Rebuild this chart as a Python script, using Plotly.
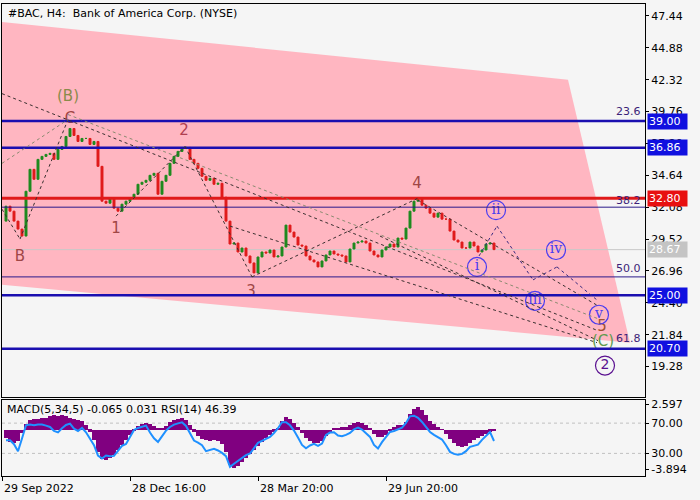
import plotly.graph_objects as go

# ---------------- data ----------------
close = [32.16, 31.76, 30.96, 30.32, 29.76, 33.36, 35.12, 34.32, 35.92, 36.16,
         36.32, 36.40, 35.92, 36.72, 36.96, 37.76, 38.40, 37.84, 37.36, 37.60,
         37.60, 37.12, 37.36, 35.36, 32.56, 32.40, 32.80, 32.00, 31.76, 32.32,
         32.56, 32.80, 33.12, 33.92, 34.08, 34.24, 34.64, 34.80, 33.12, 34.16,
         34.64, 35.60, 36.16, 36.56, 36.80, 36.88, 35.92, 35.60, 35.20, 34.56,
         34.24, 34.40, 33.92, 34.00, 32.88, 30.96, 29.12, 29.20, 28.48, 28.80,
         28.16, 27.60, 26.80, 28.08, 28.48, 28.40, 28.64, 28.08, 28.16, 28.88,
         30.64, 30.08, 29.68, 29.04, 28.96, 28.16, 27.84, 27.68, 27.28, 27.76,
         28.24, 28.56, 28.32, 28.24, 28.16, 27.68, 28.72, 29.20, 29.28, 29.36,
         29.20, 28.56, 28.24, 28.08, 28.64, 28.88, 29.12, 28.88, 29.60, 29.52,
         30.40, 31.76, 32.56, 32.72, 32.24, 32.00, 31.60, 31.28, 31.60, 31.12,
         31.12, 30.16, 29.44, 29.28, 28.80, 28.80, 29.28, 28.96, 28.48, 28.64,
         29.12, 29.20, 28.67]
first_open = 30.96

rsi = [47.4, 47.4, 42.1, 32.9, 49.6, 67.1, 68.0, 67.1, 68.2, 68.2,
       66.7, 64.9, 59.6, 57.8, 63.2, 67.5, 69.3, 62.7, 59.6, 63.6,
       57.8, 48.7, 40.8, 27.2, 23.2, 27.2, 26.3, 26.7, 33.3, 39.9,
       42.5, 51.8, 61.0, 63.6, 65.4, 66.7, 57.5, 50.0, 45.2, 53.5,
       60.1, 64.9, 68.0, 69.7, 71.1, 66.2, 56.1, 47.0, 44.3, 40.8,
       32.9, 34.2, 36.0, 33.8, 30.7, 26.3, 12.3, 16.3, 20.2, 24.1,
       27.6, 29.8, 37.7, 43.9, 46.5, 49.1, 51.8, 57.0, 63.2, 71.1,
       71.1, 67.1, 60.1, 50.9, 41.2, 36.8, 40.4, 42.5, 39.9, 43.0,
       54.4, 57.5, 57.8, 53.5, 52.6, 54.4, 57.0, 61.9, 64.0, 61.4,
       57.0, 51.8, 41.2, 36.4, 44.8, 51.8, 58.3, 59.6, 61.4, 64.0,
       70.2, 79.0, 79.8, 76.9, 71.5, 64.9, 58.3, 54.4, 50.9, 48.3,
       40.8, 32.0, 29.3, 28.1, 29.3, 32.9, 38.6, 39.7, 41.6, 47.9,
       53.1, 58.3, 46.39]

macd = [-0.8, -1.2, -1.3, -1.1, -0.3, 0.6, 1.0, 1.1, 1.1, 1.2,
        1.2, 1.4, 1.5, 1.4, 1.5, 1.4, 1.2, 1.1, 1.0, 0.9,
        0.5, -0.2, -1.0, -2.2, -2.9, -3.0, -2.8, -2.5, -2.0, -1.5,
        -1.0, -0.5, -0.1, 0.4, 0.6, 0.7, 0.6, 0.4, 0.2, 0.1,
        0.4, 0.8, 1.0, 1.1, 1.2, 1.0, 0.5, -0.2, -0.6, -0.9,
        -1.0, -1.1, -1.0, -1.1, -1.4, -2.2, -3.5, -3.8, -3.6, -3.2,
        -2.8, -2.4, -2.0, -1.6, -1.2, -0.8, -0.5, -0.2, 0.1, 0.9,
        1.3, 1.1, 0.7, 0.3, -0.3, -0.8, -1.1, -1.3, -1.3, -1.1,
        -0.6, -0.3, 0.1, 0.2, 0.3, 0.3, 0.5, 0.7, 0.8, 0.7,
        0.5, 0.1, -0.4, -0.7, -0.7, -0.5, -0.1, 0.3, 0.5, 0.5,
        0.8, 1.6, 2.1, 2.3, 2.0, 1.5, 0.9, 0.6, 0.3, 0.05,
        -0.4, -0.9, -1.3, -1.6, -1.7, -1.6, -1.3, -1.0, -0.8, -0.6,
        -0.4, -0.2, -0.065]

price_ticks = [47.44, 44.88, 42.32, 39.76, 37.20, 34.64, 32.08, 29.52, 26.96, 24.40, 21.84, 19.28]
x_tick_pos = [0, 32, 64, 96]
x_tick_labels = ["29 Sep 2022", "28 Dec 16:00", "28 Mar 20:00", "29 Jun 20:00"]

level_values = [39.00, 36.86, 32.80, 28.67, 25.00, 20.70]
level_kinds = ["blue", "blue", "red", "gray", "blue", "blue"]
fib_values = [32.08, 26.48]
fib_labels = ["23.6", "38.2", "50.0", "61.8"]
fib_label_prices = [39.76, 32.64, 27.12, 21.52]

wave_text = ["(B)", "C", "B", "1", "2", "3", "4", "5", "(C)"]
wave_x = [16.5, 17.0, 4.5, 28.5, 45.5, 62.25, 103.75, 150.0, 150.25]
wave_y = [40.88, 39.12, 28.08, 30.32, 38.16, 25.28, 33.92, 22.4, 21.2]
circ_text = ["i", "ii", "iii", "iv", "v"]
circ_x = [118.75, 123.5, 133.25, 138.5, 149.25]
circ_y = [27.28, 31.84, 24.56, 28.64, 23.44]

idx = list(range(1, len(close) + 1))
opens = [first_open] + close[:-1]
highs = [max(o, c) for o, c in zip(opens, close)]
lows = [min(o, c) for o, c in zip(opens, close)]

# ---------------- geometry ----------------
W, H = 700, 500
XL, XR = 2, 645
MT, MB = 2, 397
ST, SB = 400, 476
XMAX = (XR - XL) / 4.0
FONT = "DejaVu Sans"

def py(p):
    return 1 - p / H

fig = go.Figure()

fig.add_trace(go.Candlestick(
    x=idx, open=opens, high=highs, low=lows, close=close,
    increasing=dict(line=dict(color="#1f8a1f", width=1), fillcolor="#1f8a1f"),
    decreasing=dict(line=dict(color="#e01c1c", width=1), fillcolor="#e01c1c"),
    whiskerwidth=0, showlegend=False, hoverinfo="skip", xaxis="x", yaxis="y"))

fig.add_trace(go.Bar(x=idx, y=macd, width=1.0, marker=dict(color="#800080", line=dict(width=0)),
                     xaxis="x2", yaxis="y2", showlegend=False, hoverinfo="skip"))
fig.add_trace(go.Scatter(x=idx, y=rsi, mode="lines", line=dict(color="#1e90ff", width=2),
                         xaxis="x2", yaxis="y3", showlegend=False, hoverinfo="skip"))

# wave labels
wave_colors = ["#8a8a4a", "#a04646", "#a04646", "#a04646", "#b04050", "#a04646", "#a04646", "#a05030", "#5f9a4f"]
fig.add_trace(go.Scatter(x=wave_x, y=wave_y, mode="text", text=wave_text,
                         textfont=dict(family=FONT, size=15, color=wave_colors),
                         showlegend=False, hoverinfo="skip", xaxis="x", yaxis="y"))
fig.add_trace(go.Scatter(x=circ_x, y=circ_y, mode="markers+text", text=circ_text,
                         marker=dict(symbol="circle-open", size=19, color="#4a3cf0", line=dict(width=1.2)),
                         textfont=dict(family="DejaVu Serif", size=14, color="#4a3cf0"),
                         textposition="middle center",
                         showlegend=False, hoverinfo="skip", xaxis="x", yaxis="y"))
fig.add_trace(go.Scatter(x=[150.75], y=[19.36], mode="markers+text", text=["2"],
                         marker=dict(symbol="circle-open", size=19, color="#5a1090", line=dict(width=1.2)),
                         textfont=dict(family=FONT, size=14, color="#5a1090"),
                         textposition="middle center",
                         showlegend=False, hoverinfo="skip", xaxis="x", yaxis="y"))

shapes = []
# pink channel
shapes.append(dict(type="path", xref="x", yref="y", layer="below",
                   path="M 0,46.96 L 141.5,42.32 L 157,21.2 L 0,25.84 Z",
                   fillcolor="#ffb6c1", line=dict(width=0)))
# horizontal levels
for v in fib_values:
    shapes.append(dict(type="line", xref="x", yref="y", x0=0, x1=XMAX, y0=v, y1=v,
                       line=dict(color="#2a1a8a", width=1), layer="above"))
kind_style = {"blue": ("#1a0fb0", 2.5), "red": ("#e01a1a", 3), "gray": ("#c8c8c8", 1)}
for v, k in zip(level_values, level_kinds):
    c, w = kind_style[k]
    shapes.append(dict(type="line", xref="x", yref="y", x0=0, x1=XMAX, y0=v, y1=v,
                       line=dict(color=c, width=w), layer="above" if k != "gray" else "below"))

# dashed wave / channel lines
dark = "#3a3030"
light = "#8a8a70"
segs = [
    ((0, 41.20), (149, 22.16), dark),
    ((16.5, 39.52), (149, 23.12), light),
    ((0, 31.92), (4.5, 29.52), dark),
    ((4.5, 29.52), (16.5, 39.12), dark),
    ((0, 35.60), (16.5, 39.12), light),
    ((28.5, 31.36), (45.75, 36.96), dark),
    ((45.75, 36.96), (62.5, 26.48), dark),
    ((62.5, 26.48), (104, 32.8), dark),
    ((57, 30.56), (148.75, 21.2), dark),
    ((94.5, 29.76), (149, 21.36), dark),
    ((104, 32.64), (149, 24.16), dark),
    ((119.25, 28.16), (123.75, 30.56), "#3a2a80"),
    ((123.75, 30.56), (132.75, 26.24), "#3a2a80"),
    ((132.75, 26.24), (138.75, 27.28), "#3a2a80"),
    ((138.75, 27.28), (149, 24.56), "#3a2a80"),
]
for (x0, y0), (x1, y1), c in segs:
    shapes.append(dict(type="line", xref="x", yref="y", x0=x0, y0=y0, x1=x1, y1=y1,
                       line=dict(color=c, width=1, dash="3px,3px"), layer="above"))

# RSI levels
for v in [70, 30]:
    shapes.append(dict(type="line", xref="x2", yref="y3", x0=0, x1=XMAX, y0=v, y1=v,
                       line=dict(color="#c0c0c0", width=1, dash="3px,3px"), layer="below"))

annotations = []
annotations.append(dict(x=6 / W, y=py(12), xref="paper", yref="paper", xanchor="left", yanchor="middle",
                        text="#BAC, H4:  Bank of America Corp. (NYSE)", showarrow=False,
                        font=dict(family=FONT, size=11, color="black")))
annotations.append(dict(x=5 / W, y=py(409), xref="paper", yref="paper", xanchor="left", yanchor="middle",
                        text="MACD(5,34,5) -0.065 0.031 RSI(14) 46.39", showarrow=False,
                        font=dict(family=FONT, size=11, color="black")))
for xp, lab in zip(x_tick_pos, x_tick_labels):
    annotations.append(dict(x=xp, y=py(488), xref="x2", yref="paper", xanchor="left", yanchor="middle",
                            text=lab, showarrow=False, font=dict(family=FONT, size=11, color="black")))
for lab, p in zip(fib_labels, fib_label_prices):
    annotations.append(dict(x=643 / W, y=p, xref="paper", yref="y", xanchor="right", yanchor="middle",
                            text=lab, showarrow=False, font=dict(family=FONT, size=11, color="#3c1f78")))
box_bg = {"blue": "#1010e0", "red": "#e81010", "gray": "#c4c4c4"}
for v, k in zip(level_values, level_kinds):
    annotations.append(dict(x=647 / W, y=v, xref="paper", yref="y", xanchor="left", yanchor="middle",
                            text="%.2f" % v, showarrow=False, bgcolor=box_bg[k], borderpad=1,
                            width=37, align="left",
                            font=dict(family=FONT, size=11, color="white")))

axis_common = dict(showgrid=False, zeroline=False, showline=True, mirror=True, linecolor="black", linewidth=1)

fig.update_layout(
    width=W, height=H, margin=dict(l=0, r=0, t=0, b=0),
    paper_bgcolor="#f5f5f5", plot_bgcolor="#f5f5f5",
    bargap=0, showlegend=False,
    shapes=shapes, annotations=annotations,
    xaxis=dict(domain=[XL / W, XR / W], range=[0, XMAX], anchor="y", showticklabels=False, ticks="",
               rangeslider=dict(visible=False), **axis_common),
    yaxis=dict(domain=[py(MB), py(MT)], range=[16.80, 48.40], side="right", anchor="x",
               tickvals=price_ticks, ticktext=["%.2f" % t for t in price_ticks],
               ticks="outside", ticklen=3, tickcolor="black",
               tickfont=dict(family=FONT, size=11, color="black"), **axis_common),
    xaxis2=dict(domain=[XL / W, XR / W], range=[0, XMAX], anchor="y2", showticklabels=False,
                ticks="outside", ticklen=4, tickcolor="black", tickvals=x_tick_pos, **axis_common),
    yaxis2=dict(domain=[py(SB), py(ST)], range=[-4.593, 2.997], side="right", anchor="x2",
                tickvals=[2.597, -3.894], ticktext=["2.597", "-3.894"],
                ticks="outside", ticklen=3, tickcolor="black",
                tickfont=dict(family=FONT, size=11, color="black"), **axis_common),
    yaxis3=dict(overlaying="y2", range=[0, 100], side="right", anchor="x2",
                tickvals=[70, 30], ticktext=["70.00", "30.00"],
                ticks="outside", ticklen=3, tickcolor="black", showgrid=False, zeroline=False,
                showline=False, tickfont=dict(family=FONT, size=11, color="black")),
)

fig.write_html("out.html")
